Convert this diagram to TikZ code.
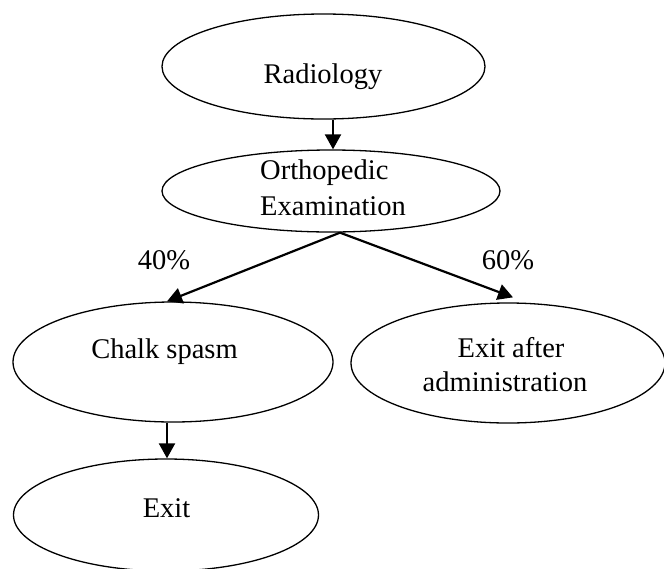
\documentclass[tikz,border=0pt]{standalone}
\usepackage{fontspec}
\setmainfont{Liberation Serif}
\usetikzlibrary{arrows.meta,shapes.geometric}
\begin{document}
\begin{tikzpicture}[x=1pt,y=-1pt,
  oval/.style={draw=black, line width=1.3pt, ellipse, inner sep=0pt},
  txt/.style={font=\fontsize{28.5}{33}\selectfont, inner sep=0pt, anchor=base},
  arr/.style={draw=black, line width=2.2pt, -{Triangle[length=15pt,width=16pt]}}]
\useasboundingbox (0,0) rectangle (664,568);
% ellipses
\node[oval, minimum width=323pt, minimum height=105pt] (rad) at (323.5,66.5) {};
\node[oval, minimum width=338pt, minimum height=82pt] (ortho) at (331,191) {};
\node[oval, minimum width=320pt, minimum height=120pt] (chalk) at (173,362) {};
\node[oval, minimum width=314pt, minimum height=120pt] (exitadm) at (508,363) {};
\node[oval, minimum width=305pt, minimum height=112pt] (exit) at (166,515) {};
% texts
\node[txt] (radt) at (323,83) {Radiology};
\node[txt, anchor=base west] (orthot1) at (260,179) {Orthopedic};
\node[txt, anchor=base west] (orthot2) at (260,215) {Examination};
\node[txt] (chalkt) at (164.5,358) {Chalk spasm};
\node[txt] (exitadmt1) at (511,357) {Exit after};
\node[txt] (exitadmt2) at (505,391) {administration};
\node[txt] (exitt) at (166.5,517) {Exit};
\node[txt] (p40) at (164,269) {40\%};
\node[txt] (p60) at (508,269) {60\%};
% connectors
\draw[arr] ([xshift=9.5pt]rad.south) -- ([xshift=9.5pt]rad.south |- ortho.north);
\draw[arr] ([xshift=9pt]ortho.south) -- ([xshift=-6pt]chalk.north);
\draw[arr] ([xshift=9pt]ortho.south) -- ([xshift=5pt,yshift=5pt]exitadm.north);
\draw[arr] ([xshift=-6pt]chalk.south) -- ([xshift=-6pt]chalk.south |- exit.north);
\end{tikzpicture}
\end{document}
